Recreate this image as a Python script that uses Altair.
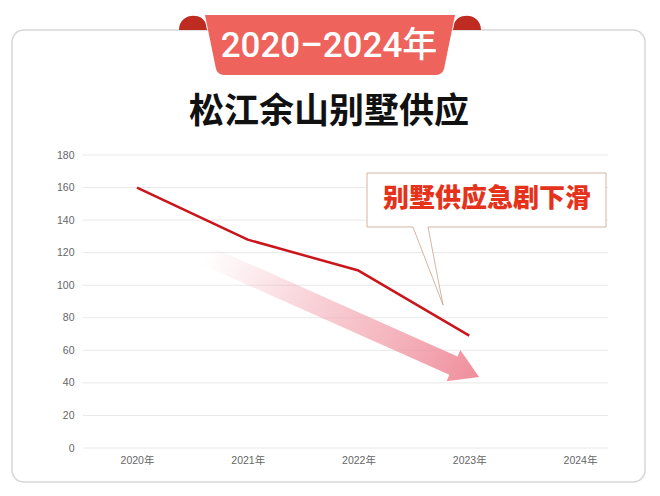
import altair as alt
import pandas as pd

# ---- data ----
years = ["2020年", "2021年", "2022年", "2023年", "2024年"]
supply = [160, 128, 109, 69]
y_ticks = [0, 20, 40, 60, 80, 100, 120, 140, 160, 180]
banner_text = "2020–2024年"
title_text = "松江余山别墅供应"
callout_text = "别墅供应急剧下滑"

df = pd.DataFrame({"year": years[:len(supply)], "supply": supply})
grid_df = pd.DataFrame({"tick": y_ticks})

# ---- layout helpers (page pixel -> plot-area offset) ----
PLOT_L, PLOT_T = 83, 155
W, H = 525, 293


def px(x):
    return x - PLOT_L


def py(y):
    return y - PLOT_T


one = alt.Data(values=[{"k": 1}])
latin_font = "Liberation Sans, Noto Sans CJK SC, sans-serif"
banner_font = "Roboto, Noto Sans CJK SC, sans-serif"
cjk_font = "Noto Sans CJK SC, sans-serif"

y_scale = alt.Scale(domain=[0, 180])
y_axis = alt.Axis(title=None, values=y_ticks, ticks=False, domain=False, grid=False,
                  labelColor="#666666", labelFontSize=10.5, labelFont=latin_font,
                  labelPadding=9, labelOverlap=False, labelFlush=False)

# card frame
card = alt.Chart(one).mark_rect(
    fill="white", fillOpacity=0, stroke="#d6d6d6", strokeWidth=1.5, cornerRadius=12
).encode(x=alt.value(px(12)), x2=alt.value(px(645)), y=alt.value(py(30)), y2=alt.value(py(482)))

# ribbon banner
fold_path = ("M-151,15 C-151,-3 -126,-3 -124,10 L-123,15 Z "
             "M151,15 C151,-3 126,-3 124,10 L123,15 Z")
body_path = "M-125,0 L125,0 L114,54 Q112,60 105,60 L-105,60 Q-112,60 -114,54 Z"
folds = alt.Chart(one).mark_point(
    shape=fold_path, size=4, filled=True, fill="#bd2b21", opacity=1, strokeWidth=0
).encode(x=alt.value(px(330)), y=alt.value(py(15)))
body = alt.Chart(one).mark_point(
    shape=body_path, size=4, filled=True, fill="#ee635c", opacity=1, strokeWidth=0
).encode(x=alt.value(px(330)), y=alt.value(py(15)))
banner = alt.Chart(one).mark_text(
    text=banner_text, font=banner_font, fontSize=35, fontWeight=500, color="white",
    align="center", baseline="alphabetic"
).encode(x=alt.value(px(329)), y=alt.value(py(57)))

title = alt.Chart(one).mark_text(
    text=title_text, font=cjk_font, fontSize=35, fontWeight="bold", color="#111111",
    align="center", baseline="middle"
).encode(x=alt.value(px(329)), y=alt.value(py(112)))

# horizontal gridlines across the whole plot width
grid = alt.Chart(grid_df).mark_rule(color="#e8e8e8", strokeWidth=1).encode(
    y=alt.Y("tick:Q", scale=y_scale, axis=y_axis),
    x=alt.value(0), x2=alt.value(W),
)

# gradient trend arrow
arrow_path = "M-150,-10 L122,-10 L122,-17 L150,0 L122,17 L122,10 L-150,10 Z"
arrow_fill = alt.LinearGradient(
    gradient="linear",
    stops=[
        alt.GradientStop(color="rgba(244,175,185,0)", offset=0),
        alt.GradientStop(color="rgba(243,170,181,0.55)", offset=0.4),
        alt.GradientStop(color="#ef8e9b", offset=1),
    ],
    x1=0, x2=1, y1=0, y2=0,
)
arrow = alt.Chart(one).mark_point(
    shape=arrow_path, size=4, filled=True, fill=arrow_fill, opacity=1, strokeWidth=0,
    angle=24
).encode(x=alt.value(px(342)), y=alt.value(py(316)))

# main series
line = alt.Chart(df).mark_line(color="#c9151b", strokeWidth=2.5, strokeJoin="round").encode(
    x=alt.X(
        "year:N",
        scale=alt.Scale(domain=years, range=[54, 497], padding=0),
        axis=alt.Axis(title=None, labelAngle=0, ticks=False, domain=False, grid=False,
                      labelColor="#666666", labelFontSize=10.5, labelFont=latin_font,
                      labelPadding=7, labelOverlap=False),
    ),
    y=alt.Y("supply:Q", scale=y_scale, axis=y_axis),
)

# callout
callout_path = "M0,0 L239,0 L239,54 L61,54 L76,132 L46,54 L0,54 Z"
callout = alt.Chart(one).mark_point(
    shape=callout_path, size=4, filled=True, fill="white", stroke="#c9a18c",
    strokeWidth=0.8, opacity=1
).encode(x=alt.value(px(367)), y=alt.value(py(173)))
callout_label = alt.Chart(one).mark_text(
    text=callout_text, font=cjk_font, fontSize=26, fontWeight=900, color="#e5321a",
    align="center", baseline="middle"
).encode(x=alt.value(px(487)), y=alt.value(py(199)))

chart = alt.layer(
    card, folds, body, banner, title, grid, arrow, line, callout, callout_label
).properties(
    width=W, height=H,
    autosize=alt.AutoSizeParams(type="none"),
    padding={"left": 75, "top": 147, "right": 44, "bottom": 40},
).configure_view(stroke=None)

chart.save("out.html", embed_options={"renderer": "svg", "actions": False})
